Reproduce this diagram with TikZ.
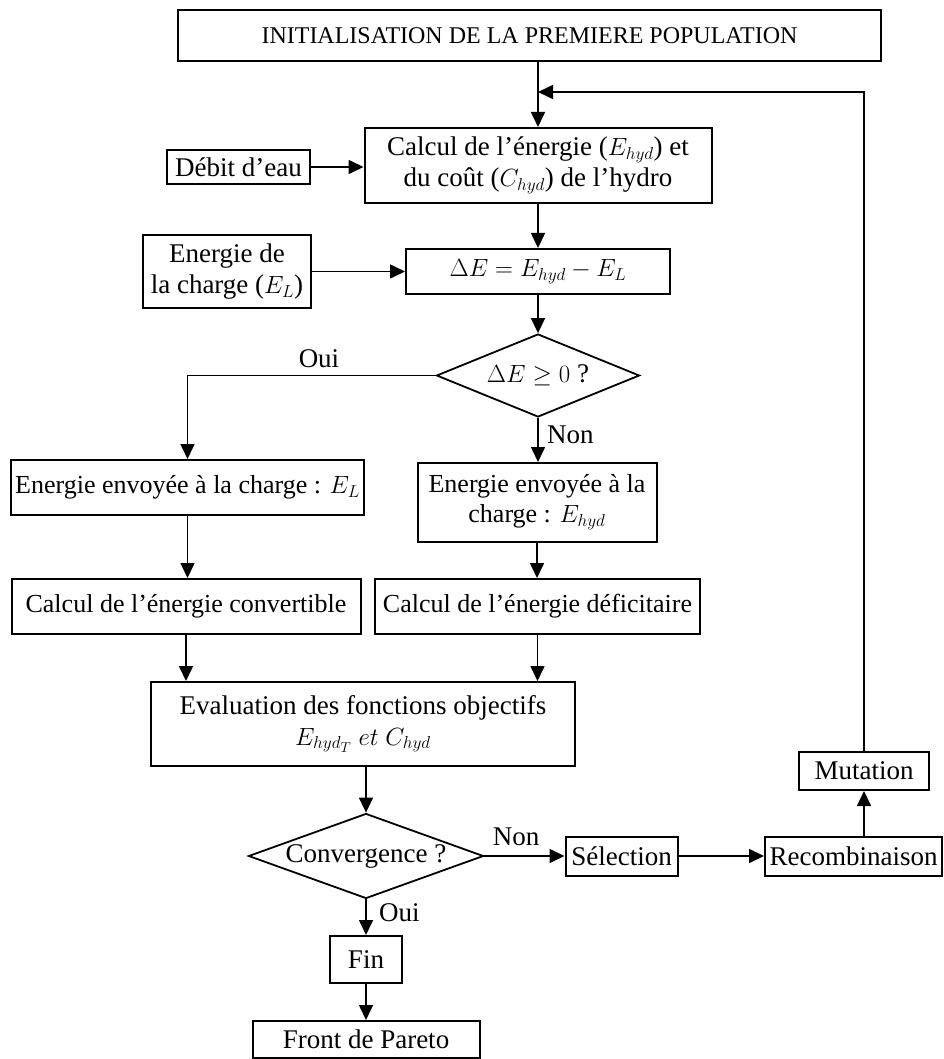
\documentclass[tikz,border=0pt]{standalone}
\usepackage{fontspec}
\setmainfont{Liberation Serif}
\usetikzlibrary{shapes.geometric,arrows.meta}
\tikzset{
 box/.style={draw, line width=2pt, inner sep=2pt, align=center, font=\fontsize{27}{31}\selectfont},
 tbox/.style={box, font=\fontsize{26}{30}\selectfont},
 dia/.style={draw, diamond, line width=1.8pt, inner sep=0pt, align=center, font=\fontsize{27}{31}\selectfont},
 conn/.style={line width=1.6pt},
 arr/.style={conn, -{Triangle[length=15pt,width=14pt]}},
 lbl/.style={font=\fontsize{27}{31}\selectfont, inner sep=0pt},
}
\begin{document}
\begin{tikzpicture}[x=1pt,y=-1pt]
\useasboundingbox[fill=white] (0,0) rectangle (944,1059);
\node[box, font=\fontsize{24}{28}\selectfont, minimum width=703pt, minimum height=51pt] (init) at (529.5,35.5) {INITIALISATION DE LA PREMIERE POPULATION};
\node[box, minimum width=347pt, minimum height=75pt] (calc) at (538,165.5) {Calcul de l’énergie ($E_{hyd}$) et\\du coût ($C_{hyd}$) de l’hydro};
\node[box, minimum width=143pt, minimum height=34pt] (debit) at (238.5,167) {Débit d’eau};
\node[box, minimum width=264pt, minimum height=45pt] (dE) at (538,271.5) {$\Delta E = E_{hyd} - E_L$};
\node[box, minimum width=168pt, minimum height=73pt] (charge) at (227,271.5) {Energie de\\la charge ($E_L$)};
\node[dia, minimum width=203pt, minimum height=83pt, aspect=2.45] (d1) at (538,375.5) {$\Delta E \geq 0$ ?};
\node[tbox, minimum width=353pt, minimum height=55pt] (boxEL) at (187.5,487.5) {Energie envoyée à la charge : $E_L$};
\node[tbox, minimum width=239pt, minimum height=79pt] (boxEhyd) at (537,502.5) {Energie envoyée à la\\charge : $E_{hyd}$};
\node[tbox, minimum width=349pt, minimum height=55pt] (conv) at (186,606.5) {Calcul de l’énergie convertible};
\node[tbox, minimum width=325pt, minimum height=55pt] (defic) at (537.5,606.5) {Calcul de l’énergie déficitaire};
\node[box, minimum width=424pt, minimum height=84pt] (eval) at (363,724) {Evaluation des fonctions objectifs\\$E_{hyd_T}\ et\ C_{hyd}$};
\node[dia, minimum width=235pt, minimum height=85pt, aspect=2.76] (d2) at (366,856) {Convergence ?};
\node[box, minimum width=112pt, minimum height=39pt] (sel) at (621.5,856) {Sélection};
\node[box, minimum width=177pt, minimum height=39pt] (recomb) at (853.5,856) {Recombinaison};
\node[box, minimum width=130pt, minimum height=38pt] (mut) at (864,771) {Mutation};
\node[box, minimum width=72pt, minimum height=47pt] (fin) at (366,959.5) {Fin};
\node[box, minimum width=227pt, minimum height=37pt] (front) at (366,1039.5) {Front de Pareto};
\node[lbl] (oui1) at (319,359) {Oui};
\node[lbl, anchor=west] (non1) at (547,435) {Non};
\node[lbl] (non2) at (516,837) {Non};
\node[lbl, anchor=west] (oui2) at (379,913) {Oui};
\coordinate (fb) at (calc.north |- 0,92);
\draw[arr] (init.south -| calc.north) -- (calc.north);
\draw[arr] (mut.north) |- (fb);
\draw[arr] (debit.east) -- (debit.east -| calc.west);
\draw[arr] (calc.south) -- (dE.north);
\draw[arr] (charge.east) -- (charge.east -| dE.west);
\draw[arr] (dE.south) -- (d1.north);
\draw[arr] (d1.west) -| (boxEL.north);
\draw[arr] (d1.south) -- (d1.south |- boxEhyd.north);
\draw[arr] (boxEL.south) -- (boxEL.south |- conv.north);
\draw[arr] (boxEhyd.south) -- (boxEhyd.south |- defic.north);
\draw[arr] (conv.south) -- (conv.south |- eval.north);
\draw[arr] (defic.south) -- (defic.south |- eval.north);
\draw[arr] (eval.south -| d2.north) -- (d2.north);
\draw[arr] (d2.east) -- (d2.east -| sel.west);
\draw[arr] (sel.east) -- (sel.east -| recomb.west);
\draw[arr] (recomb.north -| mut.south) -- (mut.south);
\draw[arr] (d2.south) -- (fin.north);
\draw[arr] (fin.south) -- (front.north);
\end{tikzpicture}
\end{document}
